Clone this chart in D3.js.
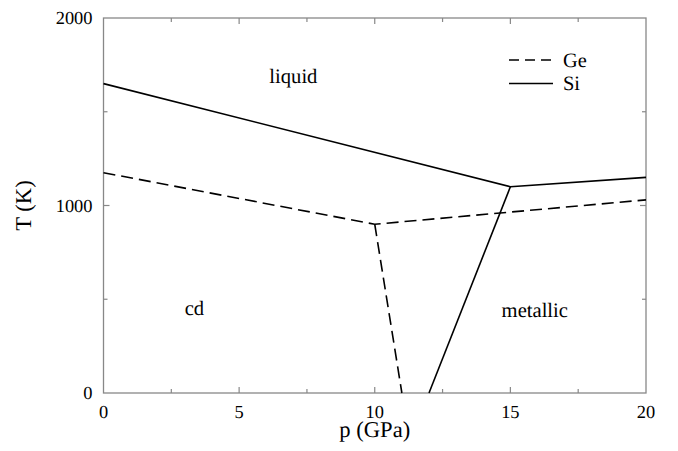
<!DOCTYPE html>
<html>
<head>
<meta charset="utf-8">
<script src="https://cdn.jsdelivr.net/npm/d3@7"></script>
<style>
  html, body { margin: 0; padding: 0; background: #fff; }
</style>
</head>
<body>
<svg id="chart" width="678" height="451"></svg>
<script>
// Phase boundaries (p in GPa, T in K)
const siLiquidus = [[0, 1650], [15, 1100], [20, 1150]];
const siCdMetal  = [[15, 1100], [12, 0]];
const geLiquidus = [[0, 1175], [10, 900], [20, 1030]];
const geCdMetal  = [[10, 900], [11, 0]];

const xTicks = [0, 5, 10, 15, 20];
const xMinor = [2.5, 7.5, 12.5, 17.5];
const yTicks = [0, 1000, 2000];
const yMinor = [500, 1500];

const regionLabels = [
  { text: "liquid",   p: 7.0,  T: 1653 },
  { text: "cd",       p: 3.35, T: 415 },
  { text: "metallic", p: 15.9, T: 405 }
];

const serif = "'Liberation Serif', 'Times New Roman', serif";
const margin = { left: 103.5, right: 32, top: 18, bottom: 58 };
const W = 678, H = 451;
const svg = d3.select("#chart")
  .attr("font-family", serif)
  .attr("text-rendering", "geometricPrecision");

const x = d3.scaleLinear().domain([0, 20]).range([margin.left, W - margin.right]);
const y = d3.scaleLinear().domain([0, 2000]).range([H - margin.bottom, margin.top]);

const axisColor = "#888";
const tickLen = 6, minorLen = 4;

// frame
svg.append("rect")
  .attr("x", x(0)).attr("y", y(2000))
  .attr("width", x(20) - x(0)).attr("height", y(0) - y(2000))
  .attr("fill", "none").attr("stroke", axisColor).attr("stroke-width", 1.3);

// inward ticks on all four sides
const tg = svg.append("g").attr("stroke", axisColor).attr("stroke-width", 1.2);
xTicks.slice(1, -1).concat(xMinor).forEach(v => {
  const len = xTicks.includes(v) ? tickLen : minorLen;
  tg.append("line").attr("x1", x(v)).attr("x2", x(v)).attr("y1", y(0)).attr("y2", y(0) - len);
  tg.append("line").attr("x1", x(v)).attr("x2", x(v)).attr("y1", y(2000)).attr("y2", y(2000) + len);
});
yTicks.slice(1, -1).concat(yMinor).forEach(v => {
  const len = yTicks.includes(v) ? tickLen : minorLen;
  tg.append("line").attr("y1", y(v)).attr("y2", y(v)).attr("x1", x(0)).attr("x2", x(0) + len);
  tg.append("line").attr("y1", y(v)).attr("y2", y(v)).attr("x1", x(20)).attr("x2", x(20) - len);
});

// tick labels
svg.append("g").selectAll("text").data(xTicks).join("text")
  .attr("x", d => x(d)).attr("y", y(0) + 25)
  .attr("text-anchor", "middle").attr("font-size", 18.4)
  .text(d => d);
svg.append("g").selectAll("text").data(yTicks).join("text")
  .attr("x", x(0) - 11).attr("y", d => y(d) + 6)
  .attr("text-anchor", "end").attr("font-size", 18.4)
  .text(d => d);

// axis titles
svg.append("text")
  .attr("x", (x(0) + x(20)) / 2).attr("y", 437)
  .attr("text-anchor", "middle").attr("font-size", 22.6)
  .text("p (GPa)");
svg.append("text")
  .attr("transform", `translate(31,${y(1000)}) rotate(-90)`)
  .attr("text-anchor", "middle").attr("font-size", 22.6)
  .text("T (K)");

// boundary lines
const line = d3.line().x(d => x(d[0])).y(d => y(d[1]));
const dash = "12,6";
const lines = svg.append("g").attr("fill", "none").attr("stroke", "#000").attr("stroke-width", 1.6);
[siLiquidus, siCdMetal].forEach(d => lines.append("path").attr("d", line(d)));
[geLiquidus, geCdMetal].forEach(d => lines.append("path").attr("d", line(d)).attr("stroke-dasharray", dash));

// region names
svg.append("g").selectAll("text").data(regionLabels).join("text")
  .attr("x", d => x(d.p)).attr("y", d => y(d.T))
  .attr("text-anchor", "middle").attr("font-size", 20.6)
  .text(d => d.text);

// legend
const legend = [{ name: "Ge", dashed: true }, { name: "Si", dashed: false }];
const lg = svg.append("g");
legend.forEach((d, i) => {
  const ly = 60 + i * 23.5;
  lg.append("line").attr("x1", 509).attr("x2", 553).attr("y1", ly).attr("y2", ly)
    .attr("stroke", "#000").attr("stroke-width", 1.6)
    .attr("stroke-dasharray", d.dashed ? "10,6" : null);
  lg.append("text").attr("x", 563).attr("y", ly + 6.5).attr("font-size", 20.4).text(d.name);
});
</script>
</body>
</html>
